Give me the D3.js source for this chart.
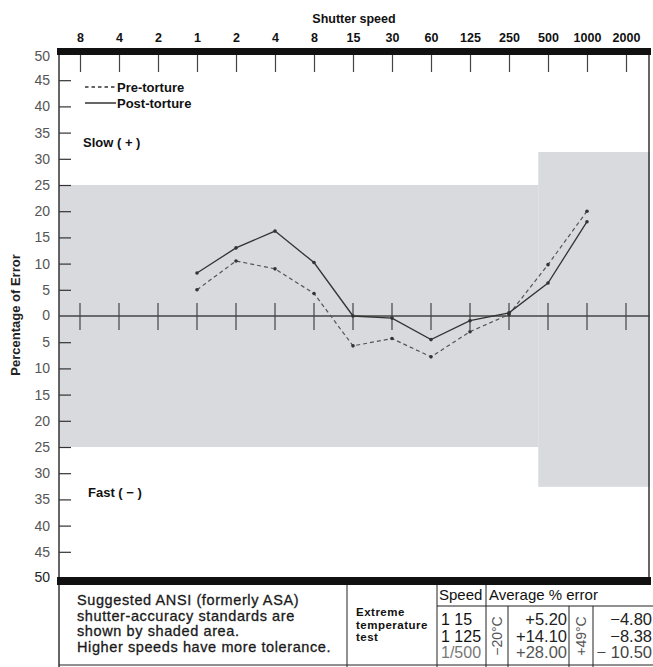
<!DOCTYPE html>
<html>
<head>
<meta charset="utf-8">
<script src="https://cdn.jsdelivr.net/npm/d3@7"></script>
<style>
  html, body { margin: 0; padding: 0; background: #fff; }
  svg { display: block; font-family: "Liberation Sans", Arial, Helvetica, sans-serif; }
</style>
</head>
<body>
<svg id="chart" width="653" height="667"></svg>
<script>
// Shutter speeds along the top (seconds 8..1, then 1/2..1/2000)
const speedLabels = ["8", "4", "2", "1", "2", "4", "8", "15", "30", "60", "125", "250", "500", "1000", "2000"];
// Measured speeds start at "1" (index 3) and run through 1/1000 (index 13)
const measuredFrom = 3;
const preTorture  = [5.0, 10.5, 9.0, 4.3, -5.7, -4.3, -7.8, -3.0, 0.3, 9.8, 20.0];
const postTorture = [8.2, 13.0, 16.2, 10.2, 0.0, -0.4, -4.5, -0.9, 0.6, 6.3, 18.0];
// Percentage-of-error ticks (labels show magnitude only)
const yTicks = [50, 45, 40, 35, 30, 25, 20, 15, 10, 5, 0, -5, -10, -15, -20, -25, -30, -35, -40, -45, -50];
// ANSI tolerance: ±25% for slower speeds, wider beyond the break
const toleranceBreak = 11.75;
const toleranceLow = [25, -25];
const toleranceHigh = [31.3, -32.6];
// Extreme temperature test table
const testSpeeds = ["1 15", "1 125", "1/500"];
const coldErrors = ["+5.20", "+14.10", "+28.00"];
const hotErrors  = ["\u22124.80", "\u22128.38", "\u2212 10.50"];

const svg = d3.select("#chart");
const plotLeft = 59, plotRight = 650, plotTop = 55;

const x = d3.scaleLinear().domain([0, 14]).range([80, 626]);
const y = d3.scaleLinear().domain([-50, 50]).range([578, 54]);

// Shaded tolerance areas
const shade = "#d8dadd";
svg.append("rect")
  .attr("x", plotLeft).attr("width", x(toleranceBreak) - plotLeft)
  .attr("y", y(toleranceLow[0])).attr("height", y(toleranceLow[1]) - y(toleranceLow[0]))
  .attr("fill", shade);
svg.append("rect")
  .attr("x", x(toleranceBreak)).attr("width", plotRight - x(toleranceBreak))
  .attr("y", y(toleranceHigh[0])).attr("height", y(toleranceHigh[1]) - y(toleranceHigh[0]))
  .attr("fill", shade);

// Left axis with inward ticks
const yAxis = d3.axisLeft(y)
  .tickValues(yTicks.filter(d => d !== 0 && Math.abs(d) !== 50))
  .tickFormat(d => Math.abs(d))
  .tickSizeInner(-12).tickSizeOuter(0).tickPadding(9);
const gy = svg.append("g").attr("transform", `translate(${plotLeft},0)`).call(yAxis);
gy.select(".domain").remove();
gy.selectAll(".tick line").attr("stroke", "#333").attr("stroke-width", 1.2);
gy.selectAll(".tick text").attr("fill", "#555").style("font-size", "14px").attr("x", -9);

// Labels for the end values and zero (drawn next to the heavy bars / zero line)
[[50, "#555", 3], [0, "#555", 0], [-50, "#222", 0]].forEach(([v, c, off]) => {
  svg.append("text").attr("x", plotLeft - 9).attr("y", y(v) + off).attr("dy", "0.32em")
    .attr("text-anchor", "end").attr("fill", c).style("font-size", "14px").text(Math.abs(v));
});

// Frame lines
svg.append("line").attr("x1", plotLeft).attr("x2", plotLeft).attr("y1", 50).attr("y2", 667)
  .attr("stroke", "#333").attr("stroke-width", 1.5);
svg.append("line").attr("x1", plotRight - 1).attr("x2", plotRight - 1).attr("y1", 50).attr("y2", 582)
  .attr("stroke", "#333").attr("stroke-width", 1.5);

// Top axis: shutter speeds
const xAxis = d3.axisTop(x)
  .tickValues(d3.range(speedLabels.length))
  .tickFormat(i => speedLabels[i])
  .tickSizeInner(-17).tickSizeOuter(0).tickPadding(13);
const gx = svg.append("g").attr("transform", `translate(0,${plotTop})`).call(xAxis);
gx.select(".domain").remove();
gx.selectAll(".tick line").attr("stroke", "#444").attr("stroke-width", 1.2);
gx.selectAll(".tick text").attr("fill", "#111").style("font-size", "12.5px").style("font-weight", "bold");

svg.append("text").attr("x", 354).attr("y", 23).attr("text-anchor", "middle")
  .style("font-size", "12.5px").style("font-weight", "bold").attr("fill", "#111").text("Shutter speed");

// Heavy top and bottom bars
svg.append("rect").attr("x", plotLeft - 2).attr("y", 48).attr("width", plotRight - plotLeft + 3).attr("height", 7).attr("fill", "#111");
svg.append("rect").attr("x", plotLeft - 2).attr("y", 577).attr("width", plotRight - plotLeft + 3).attr("height", 8).attr("fill", "#111");

// Zero line with crossing ticks
svg.append("line").attr("x1", plotLeft).attr("x2", plotRight).attr("y1", y(0)).attr("y2", y(0))
  .attr("stroke", "#444").attr("stroke-width", 1.6);
svg.append("g").selectAll("line").data(d3.range(speedLabels.length)).join("line")
  .attr("x1", d => x(d)).attr("x2", d => x(d))
  .attr("y1", y(0) - 13).attr("y2", y(0) + 14)
  .attr("stroke", "#444").attr("stroke-width", 1.2);

// Y axis title
svg.append("text").attr("transform", "translate(20,315) rotate(-90)").attr("text-anchor", "middle")
  .style("font-size", "13px").style("font-weight", "bold").attr("fill", "#222").text("Percentage of Error");

// Series lines
const line = d3.line().x((d, i) => x(i + measuredFrom)).y(d => y(d));
svg.append("path").datum(preTorture).attr("d", line).attr("fill", "none")
  .attr("stroke", "#555").attr("stroke-width", 1.2).attr("stroke-dasharray", "4,3");
svg.append("path").datum(postTorture).attr("d", line).attr("fill", "none")
  .attr("stroke", "#333").attr("stroke-width", 1.3);
[preTorture, postTorture].forEach(series => {
  svg.append("g").selectAll("circle").data(series).join("circle")
    .attr("cx", (d, i) => x(i + measuredFrom)).attr("cy", d => y(d)).attr("r", 1.8).attr("fill", "#333");
});

// Legend
svg.append("line").attr("x1", 85).attr("x2", 115).attr("y1", 87).attr("y2", 87)
  .attr("stroke", "#333").attr("stroke-width", 1.3).attr("stroke-dasharray", "3.5,3");
svg.append("line").attr("x1", 85).attr("x2", 116).attr("y1", 103).attr("y2", 103)
  .attr("stroke", "#333").attr("stroke-width", 1.5);
svg.append("text").attr("x", 117).attr("y", 91.5).style("font-size", "13px").style("font-weight", "bold")
  .attr("fill", "#111").text("Pre-torture");
svg.append("text").attr("x", 117).attr("y", 107.5).style("font-size", "13px").style("font-weight", "bold")
  .attr("fill", "#111").text("Post-torture");

// Region notes
svg.append("text").attr("x", 83).attr("y", 147).style("font-size", "13px").style("font-weight", "bold")
  .attr("fill", "#111").text("Slow ( + )");
svg.append("text").attr("x", 88).attr("y", 497).style("font-size", "13px").style("font-weight", "bold")
  .attr("fill", "#111").text("Fast ( \u2212 )");

// Caption and test table below the chart
const note = ["Suggested ANSI (formerly ASA)", "shutter-accuracy standards are",
              "shown by shaded area.", "Higher speeds have more tolerance."];
svg.append("g").selectAll("text").data(note).join("text")
  .attr("x", 77).attr("y", (d, i) => 605 + i * 15.5)
  .style("font-size", "14.5px").style("letter-spacing", "0.6px")
  .attr("fill", "#1a1a1a").attr("stroke", "#1a1a1a").attr("stroke-width", 0.3).text(d => d);

const grid = svg.append("g").attr("stroke", "#222").attr("stroke-width", 1);
[[347, 585, 667], [437, 585, 667], [486, 585, 667], [508, 606, 667], [569, 606, 667], [593, 606, 667]]
  .forEach(([gxp, y1, y2]) => grid.append("line").attr("x1", gxp).attr("x2", gxp).attr("y1", y1).attr("y2", y2));
grid.append("line").attr("x1", 437).attr("x2", plotRight + 3).attr("y1", 606).attr("y2", 606);
grid.append("line").attr("x1", plotLeft).attr("x2", plotRight + 3).attr("y1", 665).attr("y2", 665);

["Extreme", "temperature", "test"].forEach((t, i) => {
  svg.append("text").attr("x", 356).attr("y", 616 + i * 12.5)
    .style("font-size", "11.5px").style("font-weight", "bold").style("letter-spacing", "0.5px")
    .attr("fill", "#111").text(t);
});
svg.append("text").attr("x", 439).attr("y", 600).style("font-size", "15px").attr("fill", "#111").text("Speed");
svg.append("text").attr("x", 489).attr("y", 600).style("font-size", "15px").attr("fill", "#111").text("Average % error");

const rowY = i => 625 + i * 16.5;
svg.append("g").selectAll("text").data(testSpeeds).join("text")
  .attr("x", 441).attr("y", (d, i) => rowY(i)).style("font-size", "16px")
  .attr("fill", (d, i) => i === 2 ? "#777" : "#111").text(d => d);
svg.append("g").selectAll("text").data(coldErrors).join("text")
  .attr("x", 567).attr("y", (d, i) => rowY(i)).attr("text-anchor", "end").style("font-size", "16.5px")
  .attr("fill", (d, i) => i === 2 ? "#555" : "#222").text(d => d);
svg.append("g").selectAll("text").data(hotErrors).join("text")
  .attr("x", 652).attr("y", (d, i) => rowY(i)).attr("text-anchor", "end").style("font-size", "16.5px")
  .attr("fill", (d, i) => i === 2 ? "#444" : "#222").text(d => d);
svg.append("text").attr("transform", "translate(502,636) rotate(-90)").attr("text-anchor", "middle")
  .style("font-size", "14px").attr("fill", "#555").text("\u221220\u00b0C");
svg.append("text").attr("transform", "translate(586,636) rotate(-90)").attr("text-anchor", "middle")
  .style("font-size", "14px").attr("fill", "#555").text("+49\u00b0C");
</script>
</body>
</html>
